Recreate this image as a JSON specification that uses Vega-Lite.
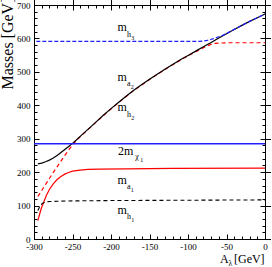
{
  "$schema": "https://vega.github.io/schema/vega-lite/v6.json",
  "width": 231,
  "height": 234,
  "autosize": {"type": "none"},
  "padding": {"left": 34, "top": 5, "right": 7, "bottom": 28},
  "config": {
    "view": {"stroke": "black", "strokeWidth": 1},
    "font": "Liberation Serif",
    "axis": {"grid": false, "domainColor": "black", "tickColor": "black", "labelColor": "black", "labelFont": "Liberation Serif", "labelFontSize": 9, "titleFont": "Liberation Serif", "titleColor": "black", "titleFontWeight": "normal"}
  },
  "datasets": {
    "curves": [
      {"s":"h2","A":-295,"m":127},{"s":"h2","A":-290,"m":145},{"s":"h2","A":-285,"m":163},{"s":"h2","A":-280,"m":181},{"s":"h2","A":-275,"m":199},{"s":"h2","A":-270,"m":216},{"s":"h2","A":-265,"m":233},{"s":"h2","A":-260,"m":250},{"s":"h2","A":-255,"m":266},{"s":"h2","A":-250,"m":281},{"s":"h2","A":-245,"m":295},{"s":"h2","A":-240,"m":306},{"s":"h2","A":-230,"m":327},{"s":"h2","A":-220,"m":348},{"s":"h2","A":-210,"m":369},{"s":"h2","A":-200,"m":389},{"s":"h2","A":-190,"m":408},{"s":"h2","A":-180,"m":427},{"s":"h2","A":-170,"m":445},{"s":"h2","A":-160,"m":461},{"s":"h2","A":-150,"m":477},{"s":"h2","A":-140,"m":492},{"s":"h2","A":-130,"m":507},{"s":"h2","A":-120,"m":521},{"s":"h2","A":-110,"m":535},{"s":"h2","A":-100,"m":548},{"s":"h2","A":-90,"m":560},{"s":"h2","A":-85,"m":566},{"s":"h2","A":-80,"m":572},{"s":"h2","A":-75,"m":578},{"s":"h2","A":-70,"m":582},{"s":"h2","A":-65,"m":585},{"s":"h2","A":-60,"m":586},{"s":"h2","A":-50,"m":587},{"s":"h2","A":-40,"m":587},{"s":"h2","A":-20,"m":587},{"s":"h2","A":0,"m":587},
      {"s":"a2","A":-295,"m":225},{"s":"a2","A":-290,"m":227},{"s":"a2","A":-285,"m":231},{"s":"a2","A":-280,"m":236},{"s":"a2","A":-275,"m":242},{"s":"a2","A":-270,"m":250},{"s":"a2","A":-265,"m":259},{"s":"a2","A":-260,"m":268},{"s":"a2","A":-255,"m":277},{"s":"a2","A":-250,"m":286},{"s":"a2","A":-245,"m":296},{"s":"a2","A":-240,"m":307},{"s":"a2","A":-230,"m":328},{"s":"a2","A":-220,"m":349},{"s":"a2","A":-210,"m":370},{"s":"a2","A":-200,"m":390},{"s":"a2","A":-190,"m":409},{"s":"a2","A":-180,"m":428},{"s":"a2","A":-170,"m":446},{"s":"a2","A":-160,"m":462},{"s":"a2","A":-150,"m":478},{"s":"a2","A":-140,"m":493},{"s":"a2","A":-130,"m":508},{"s":"a2","A":-120,"m":522},{"s":"a2","A":-110,"m":536},{"s":"a2","A":-100,"m":549},{"s":"a2","A":-90,"m":562},{"s":"a2","A":-80,"m":575},{"s":"a2","A":-70,"m":588},{"s":"a2","A":-60,"m":601},{"s":"a2","A":-50,"m":614},{"s":"a2","A":-40,"m":627},{"s":"a2","A":-30,"m":639},{"s":"a2","A":-20,"m":651},{"s":"a2","A":-10,"m":662},{"s":"a2","A":0,"m":673},
      {"s":"h3","A":-297,"m":591},{"s":"h3","A":-200,"m":591},{"s":"h3","A":-100,"m":591},{"s":"h3","A":-85,"m":591},{"s":"h3","A":-80,"m":592},{"s":"h3","A":-75,"m":594},{"s":"h3","A":-70,"m":597},{"s":"h3","A":-65,"m":601},{"s":"h3","A":-60,"m":605},{"s":"h3","A":-55,"m":609},{"s":"h3","A":-50,"m":615},{"s":"h3","A":-40,"m":627},{"s":"h3","A":-30,"m":639},{"s":"h3","A":-20,"m":651},{"s":"h3","A":-10,"m":662},{"s":"h3","A":0,"m":673},
      {"s":"chi","A":-300,"m":285},{"s":"chi","A":0,"m":285},
      {"s":"a1","A":-295,"m":55},{"s":"a1","A":-292,"m":80},{"s":"a1","A":-290,"m":95},{"s":"a1","A":-287,"m":112},{"s":"a1","A":-284,"m":130},{"s":"a1","A":-280,"m":148},{"s":"a1","A":-275,"m":165},{"s":"a1","A":-270,"m":178},{"s":"a1","A":-265,"m":187},{"s":"a1","A":-260,"m":194},{"s":"a1","A":-255,"m":199},{"s":"a1","A":-250,"m":203},{"s":"a1","A":-240,"m":206},{"s":"a1","A":-230,"m":208},{"s":"a1","A":-215,"m":209},{"s":"a1","A":-180,"m":210},{"s":"a1","A":-120,"m":211},{"s":"a1","A":0,"m":212},
      {"s":"h1","A":-295,"m":85},{"s":"h1","A":-292,"m":100},{"s":"h1","A":-289,"m":107},{"s":"h1","A":-285,"m":110},{"s":"h1","A":-280,"m":112},{"s":"h1","A":-270,"m":113},{"s":"h1","A":-250,"m":114},{"s":"h1","A":-200,"m":115},{"s":"h1","A":-100,"m":116},{"s":"h1","A":0,"m":117}
    ],
    "big": [
      {"t":"m","A":-191.6,"v":622},{"t":"m","A":-191.6,"v":473},{"t":"m","A":-191.6,"v":383},{"t":"2m","A":-190.9,"v":251},{"t":"m","A":-191.6,"v":165},{"t":"m","A":-191.6,"v":75},{"t":"A","A":-58.4,"v":-71.8},{"t":"[GeV]","A":-40.3,"v":-71.8}
    ],
    "sub": [
      {"t":"h","A":-179.2,"v":604},{"t":"a","A":-179.2,"v":458},{"t":"h","A":-179.2,"v":365},{"t":"χ","A":-168.5,"v":239},{"t":"a","A":-179.2,"v":150},{"t":"h","A":-179.2,"v":60},{"t":"λ","A":-47.4,"v":-80.8}
    ],
    "subsub": [
      {"t":"3","A":-173.8,"v":595},{"t":"2","A":-174.3,"v":449},{"t":"2","A":-173.8,"v":356},{"t":"1","A":-162,"v":230},{"t":"1","A":-174.3,"v":141},{"t":"1","A":-173.8,"v":51}
    ]
  },
  "layer": [
    {
      "data": {"name": "curves"},
      "transform": [{"filter": "datum.s === 'h2'"}],
      "mark": {"type": "line", "color": "#ff0000", "strokeWidth": 1.2, "strokeDash": [4, 3]},
      "encoding": {
        "x": {"field": "A", "type": "quantitative", "scale": {"domain": [-300, 0], "nice": false},
          "axis": {"orient": "bottom", "title": null, "values": [-300,-290,-280,-270,-260,-250,-240,-230,-220,-210,-200,-190,-180,-170,-160,-150,-140,-130,-120,-110,-100,-90,-80,-70,-60,-50,-40,-30,-20,-10,0],
            "labelExpr": "datum.value % 50 === 0 ? '' + datum.value : ''", "labelPadding": 8, "labelFlush": false, "labelOverlap": false,
            "tickSize": {"condition": {"test": "datum.value % 50 === 0", "value": -5}, "value": -3}}},
        "y": {"field": "m", "type": "quantitative", "scale": {"domain": [0, 700], "nice": false},
          "axis": {"orient": "left", "values": [0,20,40,60,80,100,120,140,160,180,200,220,240,260,280,300,320,340,360,380,400,420,440,460,480,500,520,540,560,580,600,620,640,660,680,700],
            "labelExpr": "datum.value % 100 === 0 ? '' + datum.value : ''", "labelPadding": 9, "labelFlush": false, "labelOverlap": false,
            "tickSize": {"condition": {"test": "datum.value % 100 === 0", "value": -5}, "value": -3},
            "title": "Masses [GeV]", "titleFontSize": 16, "titleAngle": 270, "titleAlign": "center", "titleBaseline": "alphabetic", "titleX": -21.3, "titleY": 38}}
      }
    },
    {
      "data": {"name": "curves"},
      "transform": [{"filter": "datum.s === 'a2'"}],
      "mark": {"type": "line", "color": "black", "strokeWidth": 1.2},
      "encoding": {"x": {"field": "A", "type": "quantitative"}, "y": {"field": "m", "type": "quantitative"}}
    },
    {
      "data": {"name": "curves"},
      "transform": [{"filter": "datum.s === 'h3'"}],
      "mark": {"type": "line", "color": "#2020ff", "strokeWidth": 1.2, "strokeDash": [4, 2]},
      "encoding": {"x": {"field": "A", "type": "quantitative"}, "y": {"field": "m", "type": "quantitative"}}
    },
    {
      "data": {"name": "curves"},
      "transform": [{"filter": "datum.s === 'chi'"}],
      "mark": {"type": "line", "color": "#2020ff", "strokeWidth": 1.4},
      "encoding": {
        "x": {"field": "A", "type": "quantitative",
          "axis": {"orient": "top", "title": null, "labels": false, "values": [-300,-290,-280,-270,-260,-250,-240,-230,-220,-210,-200,-190,-180,-170,-160,-150,-140,-130,-120,-110,-100,-90,-80,-70,-60,-50,-40,-30,-20,-10,0],
            "tickSize": {"condition": {"test": "datum.value % 50 === 0", "value": -5}, "value": -3}}},
        "y": {"field": "m", "type": "quantitative",
          "axis": {"orient": "right", "title": null, "labels": false, "values": [0,20,40,60,80,100,120,140,160,180,200,220,240,260,280,300,320,340,360,380,400,420,440,460,480,500,520,540,560,580,600,620,640,660,680,700],
            "tickSize": {"condition": {"test": "datum.value % 100 === 0", "value": -5}, "value": -3}}}
      }
    },
    {
      "data": {"name": "curves"},
      "transform": [{"filter": "datum.s === 'a1'"}],
      "mark": {"type": "line", "color": "#ff0000", "strokeWidth": 1.2},
      "encoding": {"x": {"field": "A", "type": "quantitative"}, "y": {"field": "m", "type": "quantitative"}}
    },
    {
      "data": {"name": "curves"},
      "transform": [{"filter": "datum.s === 'h1'"}],
      "mark": {"type": "line", "color": "black", "strokeWidth": 1.1, "strokeDash": [4, 3]},
      "encoding": {"x": {"field": "A", "type": "quantitative"}, "y": {"field": "m", "type": "quantitative"}}
    },
    {
      "data": {"name": "big"},
      "mark": {"type": "text", "font": "Liberation Serif", "fontSize": 12, "align": "left", "baseline": "alphabetic", "color": "black"},
      "encoding": {"x": {"field": "A", "type": "quantitative"}, "y": {"field": "v", "type": "quantitative"}, "text": {"field": "t"}}
    },
    {
      "data": {"name": "sub"},
      "mark": {"type": "text", "font": "Liberation Serif", "fontSize": 8, "align": "left", "baseline": "alphabetic", "color": "black"},
      "encoding": {"x": {"field": "A", "type": "quantitative"}, "y": {"field": "v", "type": "quantitative"}, "text": {"field": "t"}}
    },
    {
      "data": {"name": "subsub"},
      "mark": {"type": "text", "font": "Liberation Serif", "fontSize": 6, "align": "left", "baseline": "alphabetic", "color": "black"},
      "encoding": {"x": {"field": "A", "type": "quantitative"}, "y": {"field": "v", "type": "quantitative"}, "text": {"field": "t"}}
    }
  ]
}
